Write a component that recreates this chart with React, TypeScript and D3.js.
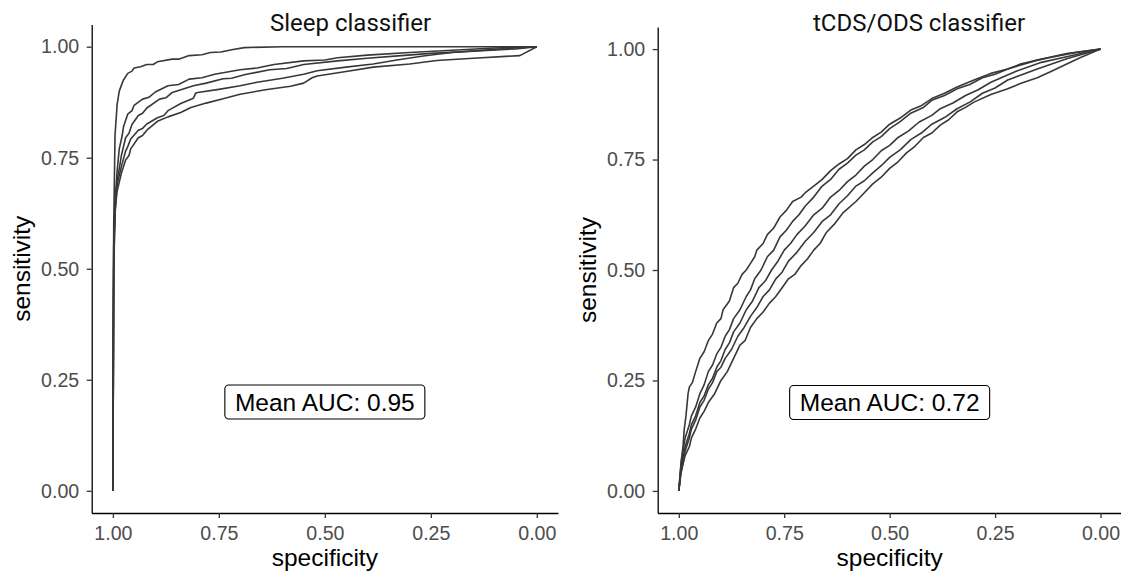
import React, { useRef, useEffect } from "react";
import * as d3 from "d3";

// [specificity, sensitivity] pairs
const sleepFold1 = [
  [1, 0], [1, 0.3], [0.998, 0.6], [0.995, 0.8], [0.99, 0.87], [0.985, 0.9],
  [0.978, 0.918], [0.975, 0.925], [0.965, 0.94], [0.955, 0.945], [0.95, 0.952],
  [0.935, 0.955], [0.92, 0.96], [0.905, 0.96], [0.895, 0.966], [0.86, 0.972],
  [0.845, 0.972], [0.82, 0.98], [0.79, 0.982], [0.77, 0.987], [0.745, 0.988],
  [0.72, 0.993], [0.69, 0.998], [0.6, 1], [0, 1],
];
const sleepFold2 = [
  [1, 0], [0.998, 0.5], [0.995, 0.65], [0.99, 0.72], [0.985, 0.77], [0.978, 0.8],
  [0.975, 0.82], [0.965, 0.848], [0.955, 0.856], [0.95, 0.868], [0.93, 0.882],
  [0.915, 0.886], [0.9, 0.898], [0.87, 0.912], [0.845, 0.915], [0.82, 0.927],
  [0.79, 0.93], [0.76, 0.938], [0.7, 0.948], [0.66, 0.952], [0.62, 0.96],
  [0.55, 0.968], [0.5, 0.97], [0.47, 0.975], [0.4, 0.981], [0.3, 0.987],
  [0.2, 0.992], [0.1, 0.997], [0, 1],
];
const sleepFold3 = [
  [1, 0], [0.998, 0.5], [0.995, 0.62], [0.99, 0.7], [0.985, 0.725], [0.98, 0.755],
  [0.97, 0.795], [0.962, 0.805], [0.955, 0.825], [0.94, 0.845], [0.93, 0.85],
  [0.92, 0.862], [0.89, 0.882], [0.875, 0.885], [0.86, 0.897], [0.81, 0.912],
  [0.78, 0.918], [0.74, 0.928], [0.72, 0.929], [0.69, 0.937], [0.63, 0.948],
  [0.59, 0.951], [0.55, 0.96], [0.47, 0.968], [0.4, 0.974], [0.32, 0.98],
  [0.25, 0.985], [0.15, 0.99], [0.05, 0.995], [0, 1],
];
const sleepFold4 = [
  [1, 0], [0.998, 0.55], [0.995, 0.64], [0.99, 0.69], [0.98, 0.73], [0.97, 0.765],
  [0.965, 0.775], [0.958, 0.792], [0.94, 0.812], [0.93, 0.816], [0.92, 0.826],
  [0.895, 0.84], [0.88, 0.845], [0.87, 0.856], [0.84, 0.872], [0.81, 0.884],
  [0.805, 0.895], [0.8, 0.897], [0.75, 0.904], [0.7, 0.912], [0.66, 0.92],
  [0.6, 0.929], [0.55, 0.938], [0.518, 0.946], [0.45, 0.954], [0.386, 0.961],
  [0.33, 0.97], [0.268, 0.979], [0.2, 0.987], [0.1, 0.994], [0, 1],
];
const sleepFold5 = [
  [1, 0], [0.998, 0.55], [0.995, 0.63], [0.99, 0.675], [0.98, 0.715], [0.97, 0.745],
  [0.962, 0.755], [0.958, 0.77], [0.94, 0.795], [0.93, 0.8], [0.92, 0.812],
  [0.895, 0.832], [0.87, 0.842], [0.84, 0.852], [0.816, 0.863], [0.78, 0.873],
  [0.74, 0.883], [0.7, 0.893], [0.64, 0.903], [0.581, 0.911], [0.55, 0.918],
  [0.53, 0.93], [0.518, 0.934], [0.45, 0.944], [0.386, 0.954], [0.3, 0.961],
  [0.236, 0.969], [0.15, 0.974], [0.04, 0.98], [0, 1],
];

const odsFold1 = [
  [1, 0], [0.997, 0.03], [0.994, 0.07], [0.99, 0.1], [0.987, 0.14], [0.983, 0.17],
  [0.978, 0.22], [0.975, 0.235], [0.968, 0.245], [0.96, 0.27], [0.955, 0.285],
  [0.95, 0.3], [0.94, 0.315], [0.93, 0.34], [0.92, 0.355], [0.91, 0.38],
  [0.9, 0.39], [0.895, 0.41], [0.88, 0.43], [0.87, 0.46], [0.86, 0.47],
  [0.85, 0.49], [0.84, 0.5], [0.83, 0.515], [0.82, 0.53], [0.815, 0.545],
  [0.8, 0.56], [0.79, 0.58], [0.775, 0.595], [0.76, 0.62], [0.745, 0.635],
  [0.73, 0.655], [0.71, 0.665], [0.7, 0.675], [0.68, 0.69], [0.66, 0.705],
  [0.64, 0.725], [0.62, 0.74], [0.6, 0.752], [0.58, 0.772], [0.56, 0.784],
  [0.54, 0.8], [0.52, 0.812], [0.5, 0.83], [0.475, 0.844], [0.45, 0.862],
  [0.425, 0.872], [0.4, 0.888], [0.37, 0.9], [0.34, 0.914], [0.3, 0.93],
  [0.26, 0.945], [0.22, 0.955], [0.19, 0.966], [0.15, 0.975], [0.12, 0.981],
  [0.06, 0.992], [0, 1],
];
const odsFold2 = [
  [1, 0], [0.995, 0.06], [0.99, 0.09], [0.985, 0.12], [0.975, 0.15], [0.97, 0.17],
  [0.96, 0.19], [0.95, 0.22], [0.94, 0.24], [0.93, 0.27], [0.92, 0.285],
  [0.91, 0.31], [0.9, 0.325], [0.89, 0.35], [0.88, 0.365], [0.87, 0.39],
  [0.855, 0.41], [0.84, 0.44], [0.83, 0.455], [0.82, 0.48], [0.805, 0.5],
  [0.79, 0.53], [0.775, 0.545], [0.76, 0.575], [0.745, 0.59], [0.73, 0.61],
  [0.715, 0.625], [0.7, 0.645], [0.68, 0.665], [0.66, 0.69], [0.64, 0.705],
  [0.62, 0.728], [0.6, 0.742], [0.58, 0.76], [0.56, 0.772], [0.54, 0.79],
  [0.52, 0.802], [0.5, 0.82], [0.475, 0.836], [0.45, 0.855], [0.42, 0.868],
  [0.4, 0.884], [0.37, 0.895], [0.34, 0.91], [0.31, 0.92], [0.28, 0.935],
  [0.25, 0.943], [0.22, 0.955], [0.15, 0.975], [0.08, 0.99], [0, 1],
];
const odsFold3 = [
  [1, 0], [0.995, 0.05], [0.99, 0.075], [0.985, 0.1], [0.975, 0.13], [0.97, 0.15],
  [0.96, 0.17], [0.95, 0.2], [0.94, 0.215], [0.93, 0.24], [0.92, 0.255],
  [0.91, 0.28], [0.9, 0.295], [0.89, 0.32], [0.88, 0.335], [0.87, 0.36],
  [0.855, 0.38], [0.84, 0.41], [0.825, 0.43], [0.81, 0.46], [0.795, 0.475],
  [0.78, 0.5], [0.765, 0.52], [0.75, 0.545], [0.735, 0.56], [0.72, 0.58],
  [0.7, 0.6], [0.68, 0.625], [0.66, 0.64], [0.64, 0.665], [0.62, 0.68],
  [0.6, 0.7], [0.58, 0.715], [0.56, 0.735], [0.54, 0.75], [0.52, 0.77],
  [0.5, 0.782], [0.48, 0.8], [0.455, 0.815], [0.43, 0.835], [0.4, 0.85],
  [0.38, 0.865], [0.35, 0.878], [0.32, 0.895], [0.29, 0.908], [0.26, 0.925],
  [0.2, 0.95], [0.14, 0.97], [0.07, 0.985], [0, 1],
];
const odsFold4 = [
  [1, 0], [0.995, 0.04], [0.99, 0.065], [0.985, 0.09], [0.975, 0.12], [0.97, 0.14],
  [0.96, 0.16], [0.95, 0.19], [0.94, 0.205], [0.93, 0.23], [0.92, 0.245],
  [0.91, 0.27], [0.9, 0.28], [0.89, 0.3], [0.875, 0.32], [0.86, 0.35],
  [0.845, 0.37], [0.83, 0.395], [0.815, 0.415], [0.8, 0.44], [0.785, 0.455],
  [0.77, 0.48], [0.755, 0.495], [0.74, 0.52], [0.72, 0.54], [0.7, 0.565],
  [0.68, 0.585], [0.66, 0.61], [0.64, 0.625], [0.62, 0.65], [0.6, 0.668],
  [0.58, 0.69], [0.56, 0.702], [0.54, 0.72], [0.52, 0.736], [0.5, 0.755],
  [0.475, 0.772], [0.45, 0.795], [0.425, 0.81], [0.4, 0.83], [0.37, 0.845],
  [0.34, 0.865], [0.31, 0.88], [0.28, 0.9], [0.25, 0.912], [0.22, 0.93],
  [0.15, 0.955], [0.08, 0.978], [0, 1],
];
const odsFold5 = [
  [1, 0], [0.995, 0.04], [0.99, 0.06], [0.985, 0.08], [0.975, 0.1], [0.97, 0.12],
  [0.96, 0.14], [0.95, 0.165], [0.94, 0.18], [0.93, 0.2], [0.915, 0.22],
  [0.9, 0.25], [0.885, 0.27], [0.87, 0.3], [0.855, 0.33], [0.843, 0.34],
  [0.83, 0.37], [0.815, 0.39], [0.8, 0.405], [0.785, 0.425], [0.77, 0.44],
  [0.755, 0.46], [0.74, 0.48], [0.725, 0.49], [0.71, 0.51], [0.695, 0.525],
  [0.68, 0.545], [0.665, 0.56], [0.65, 0.585], [0.63, 0.605], [0.61, 0.63],
  [0.58, 0.655], [0.56, 0.675], [0.54, 0.695], [0.52, 0.71], [0.5, 0.73],
  [0.48, 0.745], [0.46, 0.765], [0.44, 0.78], [0.42, 0.8], [0.4, 0.81],
  [0.38, 0.828], [0.36, 0.84], [0.34, 0.858], [0.32, 0.868], [0.3, 0.88],
  [0.26, 0.897], [0.22, 0.91], [0.19, 0.922], [0.15, 0.935], [0.12, 0.948],
  [0.05, 0.98], [0, 1],
];

const sleepCurves = [sleepFold1, sleepFold2, sleepFold3, sleepFold4, sleepFold5];
const odsCurves = [odsFold1, odsFold2, odsFold3, odsFold4, odsFold5];
const ticks = [0, 0.25, 0.5, 0.75, 1];
const panelTitles = ["Sleep classifier", "tCDS/ODS classifier"];
const aucLabels = ["Mean AUC: 0.95", "Mean AUC: 0.72"];

const width = 1121;
const height = 573;
const sans = "'Liberation Sans', Arial, Helvetica, sans-serif";

function drawPanel(svg, curves, title, auc, left, right, top, titleX) {
  const bottom = 513;
  const x = d3.scaleLinear().domain([1.05, -0.05]).range([left, right]);
  const y = d3.scaleLinear().domain([-0.05, 1.05]).range([bottom, top]);
  const g = svg.append("g");

  const line = d3
    .line()
    .x((d) => x(d[0]))
    .y((d) => y(d[1]));

  g.append("g")
    .selectAll("path")
    .data(curves)
    .join("path")
    .attr("d", line)
    .attr("fill", "none")
    .attr("stroke", "#383838")
    .attr("stroke-width", 1.6)
    .attr("stroke-linejoin", "round");

  const xAxis = g
    .append("g")
    .attr("transform", `translate(0, ${bottom})`)
    .call(
      d3.axisBottom(x).tickValues(ticks).tickFormat(d3.format(".2f"))
        .tickSize(5).tickSizeOuter(0).tickPadding(8)
    );
  const yAxis = g
    .append("g")
    .attr("transform", `translate(${left}, 0)`)
    .call(
      d3.axisLeft(y).tickValues(ticks).tickFormat(d3.format(".2f"))
        .tickSize(5).tickSizeOuter(0).tickPadding(7.5)
    );
  [xAxis, yAxis].forEach((a) => {
    a.select(".domain").attr("stroke", "#000").attr("stroke-width", 1.3);
    a.selectAll(".tick line").attr("stroke", "#333").attr("stroke-width", 1.3);
    a.selectAll(".tick text")
      .attr("fill", "#4D4D4D")
      .style("font-family", sans)
      .style("font-size", "19.6px");
  });

  g.append("text")
    .attr("x", (x(1) + x(0)) / 2)
    .attr("y", 566)
    .attr("text-anchor", "middle")
    .style("font-family", sans)
    .style("font-size", "24.5px")
    .text("specificity");

  g.append("text")
    .attr("transform", `translate(${left - 62}, ${(y(0) + y(1)) / 2}) rotate(-90)`)
    .attr("text-anchor", "middle")
    .style("font-family", sans)
    .style("font-size", "24.5px")
    .text("sensitivity");

  g.append("text")
    .attr("x", titleX)
    .attr("y", 30.5)
    .style("font-family", "Roboto, 'Noto Sans', sans-serif")
    .style("font-size", "24px")
    .attr("fill", "#111")
    .text(title);

  const lbl = g.append("g").attr("transform", `translate(${x(0.5)}, ${y(0.2)})`);
  lbl
    .append("rect")
    .attr("x", -100)
    .attr("y", -17)
    .attr("width", 200)
    .attr("height", 34)
    .attr("rx", 4)
    .attr("fill", "#fff")
    .attr("stroke", "#000")
    .attr("stroke-width", 1.1);
  lbl
    .append("text")
    .attr("text-anchor", "middle")
    .attr("dy", "0.36em")
    .style("font-family", sans)
    .style("font-size", "24.5px")
    .text(auc);
}

export default function App() {
  const ref = useRef(null);

  useEffect(() => {
    const svg = d3.select(ref.current);
    svg.selectAll("*").remove();
    drawPanel(svg, sleepCurves, panelTitles[0], aucLabels[0], 91.7, 558, 24.5, 270);
    drawPanel(svg, odsCurves, panelTitles[1], aucLabels[1], 657.7, 1121.6, 27, 813);
  }, []);

  return (
    <svg
      ref={ref}
      width={width}
      height={height}
      style={{ position: "absolute", left: 0, top: 0, background: "#fff" }}
    ></svg>
  );
}
